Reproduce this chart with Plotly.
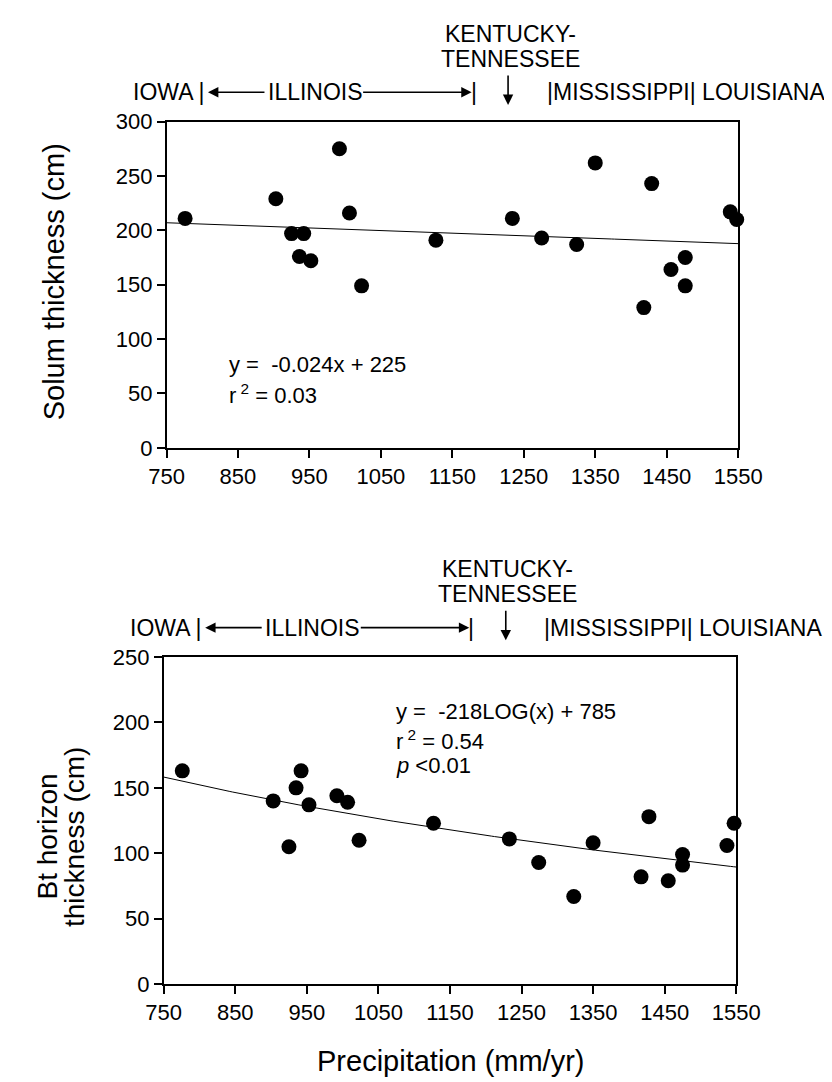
import numpy as np
import plotly.graph_objects as go

# ---------------- data ----------------
precip_solum = [776, 903, 925, 942, 936, 952, 992, 1006, 1023, 1127, 1234,
                1275, 1324, 1350, 1429, 1418, 1456, 1476, 1476, 1539, 1548]
solum = [211, 229, 197, 197, 176, 172, 275, 216, 149, 191, 211,
         193, 187, 262, 243, 129, 164, 175, 149, 217, 210]

precip_bt = [776, 903, 925, 935, 942, 953, 992, 1007, 1023, 1127, 1233,
             1274, 1323, 1350, 1428, 1417, 1455, 1475, 1475, 1537, 1547]
bt = [163, 140, 105, 150, 163, 137, 144, 139, 110, 123, 111,
      93, 67, 108, 128, 82, 79, 99, 91, 106, 123]

solum_slope = -0.024
solum_intercept = 225
bt_log_coef = -218
bt_intercept = 785

x_ticks = [750, 850, 950, 1050, 1150, 1250, 1350, 1450, 1550]

# ---------------- figure ----------------
W, H = 832, 1082
FONT = "Liberation Sans, Arial, Helvetica, sans-serif"


def px(x):
    return x / W


def py(y):
    return 1 - y / H


fig = go.Figure()

xfit = np.linspace(750, 1550, 200)

fig.add_trace(go.Scatter(x=xfit, y=solum_slope * xfit + solum_intercept,
                         mode="lines", line=dict(color="black", width=1),
                         xaxis="x", yaxis="y", hoverinfo="skip"))
fig.add_trace(go.Scatter(x=precip_solum, y=solum, mode="markers",
                         marker=dict(color="black", size=15),
                         xaxis="x", yaxis="y", cliponaxis=False))

fig.add_trace(go.Scatter(x=xfit, y=bt_log_coef * np.log10(xfit) + bt_intercept,
                         mode="lines", line=dict(color="black", width=1),
                         xaxis="x2", yaxis="y2", hoverinfo="skip"))
fig.add_trace(go.Scatter(x=precip_bt, y=bt, mode="markers",
                         marker=dict(color="black", size=15),
                         xaxis="x2", yaxis="y2", cliponaxis=False))

axis_common = dict(showline=True, linecolor="black", linewidth=1.5, mirror=True,
                   ticks="outside", ticklen=8, tickwidth=1.5, tickcolor="black",
                   showgrid=False, zeroline=False,
                   tickfont=dict(family=FONT, size=22, color="black"))

# top plot: x 148..750 px, y 104..438 px
fig.update_layout(
    xaxis=dict(domain=[px(148), px(750)], range=[750, 1550], tickvals=x_ticks,
               anchor="y", **axis_common),
    yaxis=dict(domain=[py(438), py(104)], range=[0, 300], dtick=50, tick0=0,
               anchor="x", **axis_common),
    xaxis2=dict(domain=[px(145), px(748)], range=[750, 1550], tickvals=x_ticks,
                anchor="y2", **axis_common),
    yaxis2=dict(domain=[py(987), py(652)], range=[0, 250], dtick=50, tick0=0,
                anchor="x2", **axis_common),
)

ann = []


def txt(text, x, y, xref, size=22, xanchor="center", **kw):
    ann.append(dict(text=text, x=x, y=y, xref=xref, yref="paper",
                    xanchor=xanchor, yanchor="middle", showarrow=False,
                    font=dict(family=FONT, size=size, color="black"), **kw))


def arrow(x_tip, y_tip, dx_tail, dy_tail, xref):
    # tail given as pixel offset from the tip
    ann.append(dict(text="", x=x_tip, y=y_tip, ax=dx_tail, ay=dy_tail,
                    xref=xref, yref="paper", axref="pixel", ayref="pixel",
                    showarrow=True, arrowhead=2, arrowsize=1.3, arrowwidth=1.6,
                    arrowcolor="black"))


def state_row(xref, frame_top):
    row = frame_top - 30
    s = 23
    txt("IOWA |", 807, py(row), xref, size=s, xanchor="right")
    arrow(808, py(row), 58, 0, xref)
    txt("ILLINOIS", 958, py(row), xref, size=s)
    arrow(1177, py(row), -110, 0, xref)
    txt("|", 1180, py(row), xref, size=s)
    txt("KENTUCKY-", 1231, py(frame_top - 90), xref, size=s)
    txt("TENNESSEE", 1231, py(frame_top - 64), xref, size=s)
    arrow(1228, py(frame_top - 17), 0, -31, xref)
    txt("|MISSISSIPPI| LOUISIANA", 1279, py(row), xref, size=s, xanchor="left")


state_row("x", 104)
state_row("x2", 652)

# equations
txt("y =  -0.024x + 225", px(212), py(353), "paper", xanchor="left")
txt("r<sup> 2</sup> = 0.03", px(212), py(383), "paper", xanchor="left")

txt("y =  -218LOG(x) + 785", px(388), py(708), "paper", xanchor="left")
txt("r<sup> 2</sup> = 0.54", px(388), py(737), "paper", xanchor="left")
txt("<i>p</i> <0.01", px(388), py(763), "paper", xanchor="left")

# axis titles
txt("Solum thickness (cm)", px(29), py(268), "paper", size=29, textangle=-90)
txt("Bt horizon", px(23), py(836), "paper", size=28, textangle=-90)
txt("thickness (cm)", px(51), py(836), "paper", size=28, textangle=-90)
txt("Precipitation (mm/yr)", px(448), py(1066), "paper", size=29)

fig.update_layout(annotations=ann, width=W, height=H,
                  margin=dict(l=0, r=0, t=0, b=0),
                  plot_bgcolor="white", paper_bgcolor="white",
                  showlegend=False)

fig.write_html("out.html")
